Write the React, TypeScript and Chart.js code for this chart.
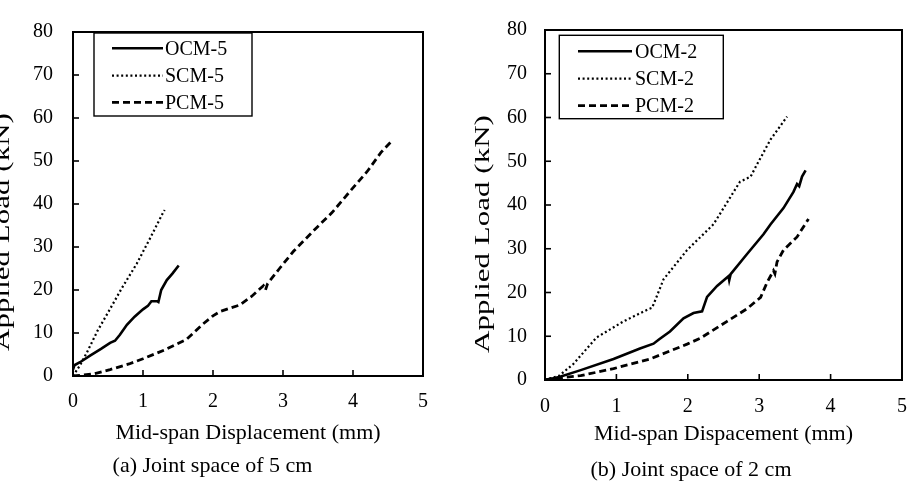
import React, { useEffect, useRef } from "react";
import { Chart, registerables } from "chart.js";

Chart.register(...registerables);

const FONT = "'Liberation Serif', 'Times New Roman', serif";

// ---- Panel (a): joint space of 5 cm ----
const ocm5X = [0, 0.02, 0.1, 0.25, 0.4, 0.53, 0.6, 0.67, 0.77, 0.88, 1.0, 1.07, 1.12, 1.2, 1.22, 1.26, 1.34, 1.42, 1.51];
const ocm5Y = [1.5, 2.5, 3.2, 4.8, 6.3, 7.7, 8.2, 9.6, 11.9, 13.8, 15.5, 16.3, 17.4, 17.4, 17.2, 20.0, 22.3, 23.8, 25.7];
const scm5X = [0, 0.1, 0.2, 0.35, 0.53, 0.7, 0.91, 1.1, 1.2, 1.29, 1.31];
const scm5Y = [0, 2.5, 5.5, 10.5, 15.6, 20.5, 26.1, 32.0, 35.2, 38.1, 38.6];
const pcm5X = [0, 0.3, 0.53, 0.8, 1.0, 1.3, 1.62, 1.72, 1.85, 2.0, 2.1, 2.38, 2.55, 2.72, 2.75, 2.78, 2.95, 3.15, 3.48, 3.7, 3.96, 4.2, 4.4, 4.55];
const pcm5Y = [0, 0.5, 1.5, 2.8, 4.0, 6.0, 8.5, 10.0, 12.0, 14.0, 15.0, 16.5, 18.5, 21.0, 20.0, 21.5, 25.0, 29.0, 34.5, 38.0, 43.0, 47.5, 52.0, 54.6];

// ---- Panel (b): joint space of 2 cm ----
const ocm2X = [0, 0.2, 0.49, 0.96, 1.33, 1.52, 1.6, 1.75, 1.94, 2.08, 2.2, 2.27, 2.41, 2.57, 2.58, 2.6, 2.83, 3.06, 3.16, 3.34, 3.48, 3.53, 3.56, 3.6, 3.65];
const ocm2Y = [0, 0.7, 2.2, 4.8, 7.2, 8.3, 9.3, 11.1, 14.1, 15.3, 15.7, 19.0, 21.5, 23.7, 22.8, 24.2, 28.8, 33.3, 35.6, 39.3, 43.0, 44.8, 44.3, 46.5, 47.9];
const scm2X = [0, 0.2, 0.4, 0.72, 1.1, 1.45, 1.5, 1.55, 1.66, 1.99, 2.36, 2.73, 2.88, 2.97, 3.16, 3.39];
const scm2Y = [0, 1.0, 3.7, 9.7, 13.4, 16.2, 16.5, 18.5, 23.0, 29.7, 35.6, 45.3, 46.5, 49.3, 55.0, 60.2];
const pcm2X = [0, 0.1, 0.5, 0.96, 1.47, 1.99, 2.17, 2.55, 2.83, 3.02, 3.11, 3.2, 3.22, 3.25, 3.34, 3.53, 3.69];
const pcm2Y = [0, 0.3, 1.0, 2.6, 4.8, 8.2, 9.5, 13.4, 16.3, 18.9, 22.3, 25.0, 24.3, 27.0, 29.7, 32.7, 36.8];

const labelsA = ["OCM-5", "SCM-5", "PCM-5"];
const labelsB = ["OCM-2", "SCM-2", "PCM-2"];

const xMin = 0, xMax = 5, xStep = 1;
const yMin = 0, yMax = 80, yStep = 10;

const xTitleA = "Mid-span Displacement (mm)";
const xTitleB = "Mid-span Dispacement (mm)";
const yTitle = "Applied Load (kN)";
const captionA = "(a) Joint space of 5 cm";
const captionB = "(b) Joint space of 2 cm";

const toPts = (xs: number[], ys: number[]) => xs.map((x, i) => ({ x, y: ys[i] }));

const framePlugin = {
  id: "frame",
  afterDraw(chart: any) {
    const { ctx, chartArea: a, scales } = chart;
    ctx.save();
    ctx.strokeStyle = "#000";
    ctx.lineWidth = 1.6;
    ctx.setLineDash([]);
    const len = 6;
    scales.x.ticks.forEach((t: any) => {
      const px = scales.x.getPixelForValue(t.value);
      ctx.beginPath();
      ctx.moveTo(px, a.bottom);
      ctx.lineTo(px, a.bottom - len);
      ctx.stroke();
    });
    scales.y.ticks.forEach((t: any) => {
      const py = scales.y.getPixelForValue(t.value);
      ctx.beginPath();
      ctx.moveTo(a.left, py);
      ctx.lineTo(a.left + len, py);
      ctx.stroke();
    });
    ctx.lineWidth = 2;
    ctx.strokeRect(a.left, a.top, a.right - a.left, a.bottom - a.top);
    ctx.restore();
  },
};

const boxLegendPlugin = {
  id: "boxLegend",
  afterDraw(chart: any, _args: any, o: any) {
    const { ctx } = chart;
    ctx.save();
    ctx.fillStyle = "#fff";
    ctx.fillRect(o.x, o.y, o.w, o.h);
    ctx.strokeStyle = "#000";
    ctx.lineWidth = 1.4;
    ctx.setLineDash([]);
    ctx.strokeRect(o.x, o.y, o.w, o.h);
    chart.data.datasets.forEach((ds: any, i: number) => {
      const y = o.rows[i];
      ctx.beginPath();
      ctx.setLineDash(ds.borderDash || []);
      ctx.lineWidth = ds.borderWidth;
      ctx.strokeStyle = ds.borderColor;
      ctx.moveTo(o.lx0, y);
      ctx.lineTo(o.lx1, y);
      ctx.stroke();
      ctx.setLineDash([]);
      ctx.fillStyle = "#000";
      ctx.font = `20px ${FONT}`;
      ctx.textBaseline = "middle";
      ctx.textAlign = "left";
      ctx.fillText(ds.label, o.tx, y + 1);
    });
    ctx.restore();
  },
};

const textsPlugin = {
  id: "texts",
  afterDraw(chart: any, _args: any, o: any) {
    const { ctx } = chart;
    ctx.save();
    ctx.fillStyle = "#000";
    ctx.textBaseline = "middle";
    ctx.textAlign = "center";
    ctx.save();
    ctx.translate(o.yTitleX, o.yTitleY);
    ctx.rotate(-Math.PI / 2);
    ctx.scale(o.stretch, 1);
    ctx.font = `22px ${FONT}`;
    ctx.fillText(o.yTitle, 0, 0);
    ctx.restore();
    ctx.font = `22px ${FONT}`;
    ctx.fillText(o.caption, o.capX, o.capY);
    ctx.restore();
  },
};

type PanelProps = {
  series: { label: string; pts: { x: number; y: number }[]; dash: number[]; width: number }[];
  xTitle: string;
  width: number;
  left: number;
  pad: { top: number; right: number; bottom: number };
  yWidth: number;
  xHeight: number;
  xTickPad: number;
  yTickPad: number;
  legend: any;
  texts: any;
};

function Panel(p: PanelProps) {
  const ref = useRef<HTMLCanvasElement | null>(null);
  useEffect(() => {
    if (!ref.current) return;
    const chart = new Chart(ref.current, {
      type: "scatter",
      data: {
        datasets: p.series.map((s) => ({
          label: s.label,
          data: s.pts,
          showLine: true,
          borderColor: "#000",
          backgroundColor: "#000",
          borderWidth: s.width,
          borderDash: s.dash,
          pointRadius: 0,
          tension: 0,
        })),
      },
      options: {
        animation: false,
        responsive: false,
        layout: { padding: { left: 0, top: p.pad.top, right: p.pad.right, bottom: p.pad.bottom } },
        plugins: {
          legend: { display: false },
          tooltip: { enabled: false },
          boxLegend: p.legend,
          texts: p.texts,
        } as any,
        scales: {
          x: {
            type: "linear",
            min: xMin,
            max: xMax,
            grid: { display: false, drawTicks: false },
            border: { display: false },
            ticks: {
              stepSize: xStep,
              padding: p.xTickPad,
              color: "#000",
              font: { family: FONT, size: 20 },
            },
            title: {
              display: true,
              text: p.xTitle,
              color: "#000",
              font: { family: FONT, size: 22 },
              padding: { top: 0, bottom: 0 },
            },
            afterFit: (s: any) => {
              s.height = p.xHeight;
              s.paddingLeft = 5;
              s.paddingRight = 5;
            },
          },
          y: {
            type: "linear",
            min: yMin,
            max: yMax,
            grid: { display: false, drawTicks: false },
            border: { display: false },
            ticks: {
              stepSize: yStep,
              padding: p.yTickPad,
              color: "#000",
              font: { family: FONT, size: 20 },
            },
            afterFit: (s: any) => {
              s.width = p.yWidth;
            },
          },
        },
      },
      plugins: [framePlugin, boxLegendPlugin, textsPlugin],
    } as any);
    return () => chart.destroy();
  }, []);
  return (
    <canvas
      ref={ref}
      width={p.width}
      height={486}
      style={{ position: "absolute", left: p.left, top: 0, width: p.width, height: 486 }}
    />
  );
}

export default function App() {
  const seriesA = [
    { label: labelsA[0], pts: toPts(ocm5X, ocm5Y), dash: [], width: 2.6 },
    { label: labelsA[1], pts: toPts(scm5X, scm5Y), dash: [2, 2.6], width: 2.2 },
    { label: labelsA[2], pts: toPts(pcm5X, pcm5Y), dash: [7, 4], width: 2.8 },
  ];
  const seriesB = [
    { label: labelsB[0], pts: toPts(ocm2X, ocm2Y), dash: [], width: 2.6 },
    { label: labelsB[1], pts: toPts(scm2X, scm2Y), dash: [2, 2.6], width: 2.2 },
    { label: labelsB[2], pts: toPts(pcm2X, pcm2Y), dash: [7, 4], width: 2.8 },
  ];
  return (
    <div
      style={{
        position: "absolute",
        left: 0,
        top: 0,
        width: 910,
        height: 486,
        overflow: "hidden",
        background: "#fff",
      }}
    >
      <Panel
        series={seriesA}
        xTitle={xTitleA}
        width={450}
        left={0}
        pad={{ top: 21, right: 27, bottom: 39.8 }}
        yWidth={73}
        xHeight={70.2}
        xTickPad={14}
        yTickPad={20}
        legend={{ x: 94, y: 33, w: 158, h: 83, lx0: 112, lx1: 163, tx: 165, rows: [48.3, 75.7, 102.3] }}
        texts={{ yTitle, yTitleX: 3, yTitleY: 232, stretch: 1.41, caption: captionA, capX: 212.5, capY: 466 }}
      />
      <Panel
        series={seriesB}
        xTitle={xTitleB}
        width={455}
        left={455}
        pad={{ top: 21, right: 8, bottom: 38.3 }}
        yWidth={90}
        xHeight={67.7}
        xTickPad={15}
        yTickPad={18}
        legend={{ x: 104.3, y: 35.3, w: 164, h: 83.4, lx0: 123, lx1: 177, tx: 180, rows: [51.3, 78.7, 105.7] }}
        texts={{ yTitle, yTitleX: 28, yTitleY: 234, stretch: 1.41, caption: captionB, capX: 236, capY: 470 }}
      />
    </div>
  );
}
